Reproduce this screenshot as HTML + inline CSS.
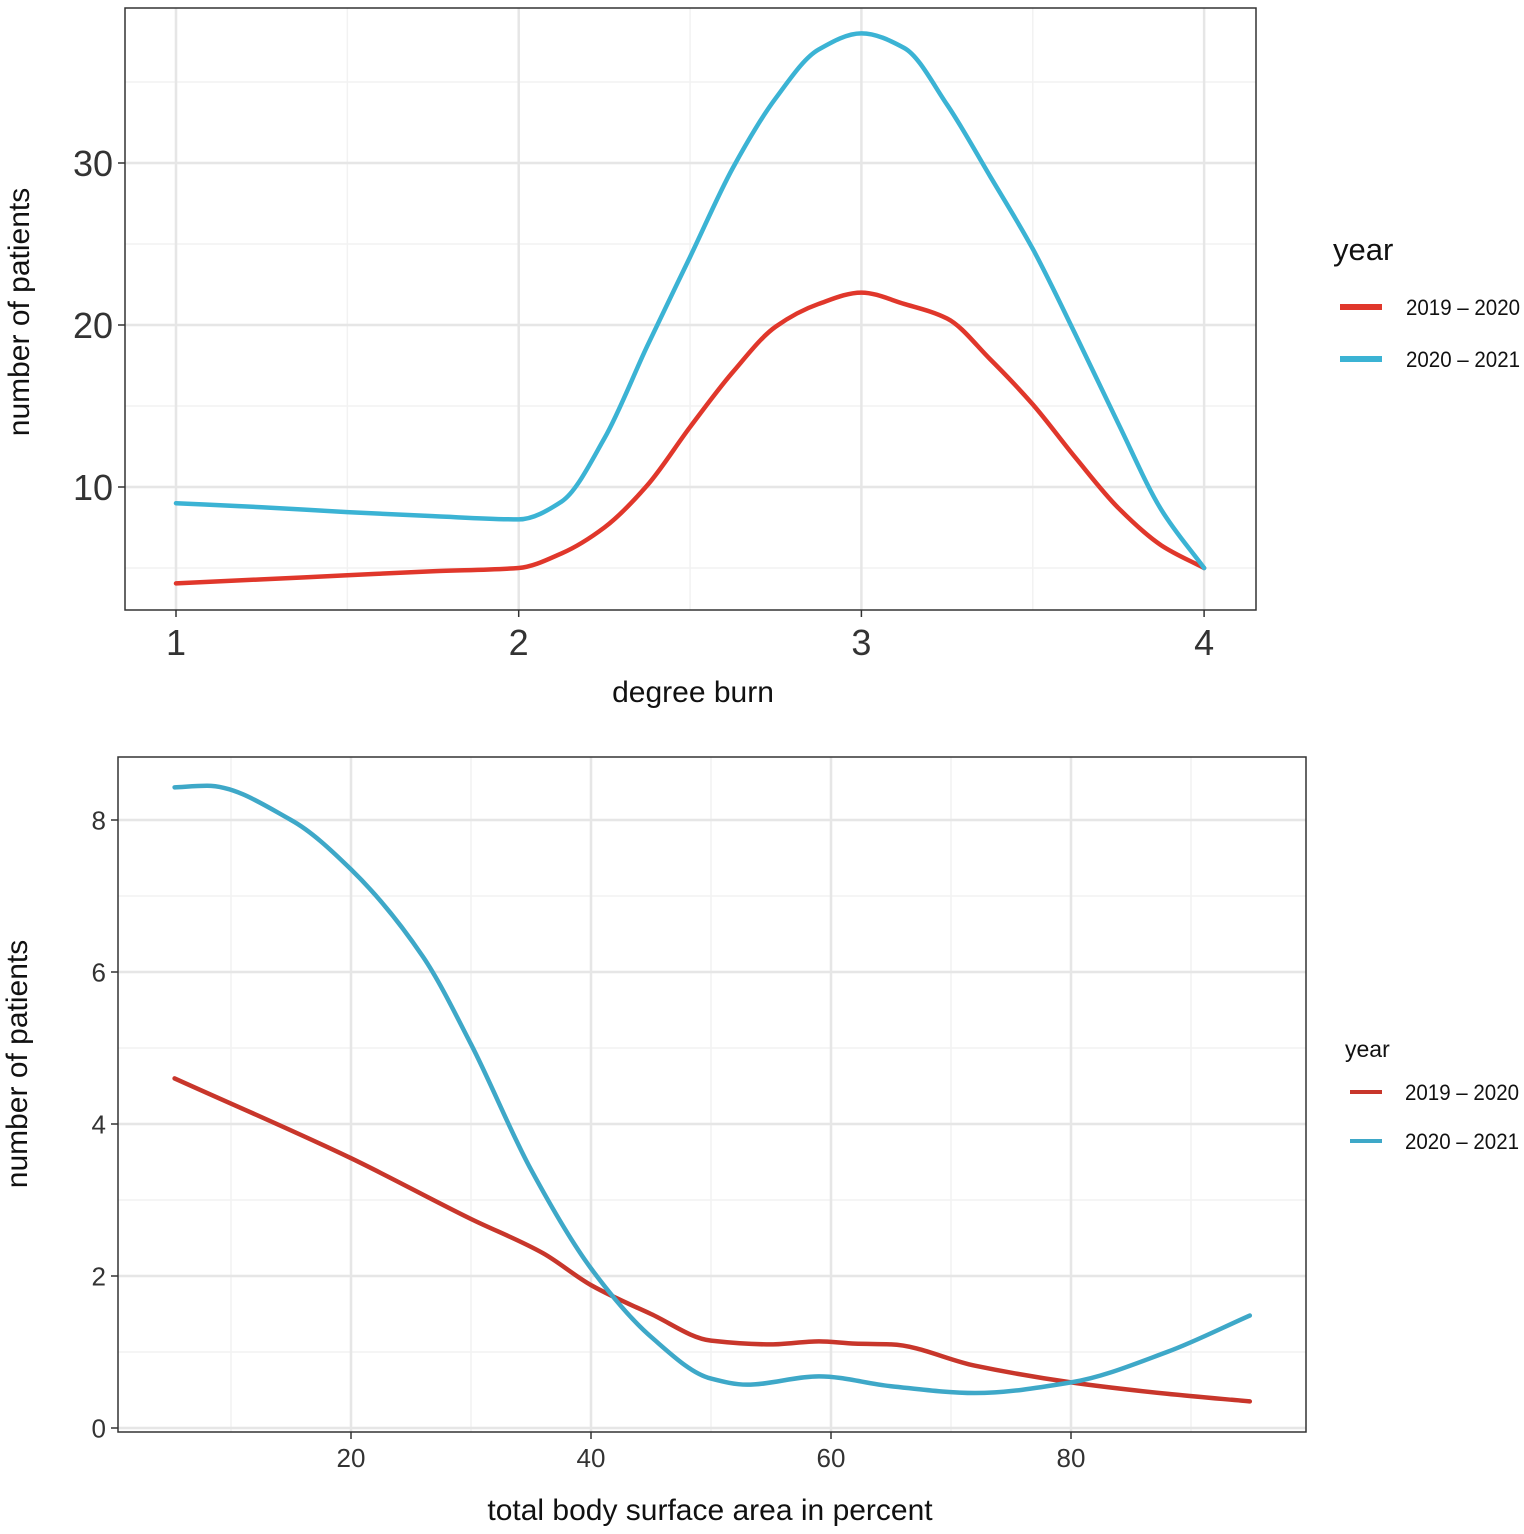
<!DOCTYPE html>
<html><head><meta charset="utf-8">
<style>
html,body{margin:0;padding:0;background:#fff;}
svg{display:block;font-family:"Liberation Sans",Arial,sans-serif;}
</style></head>
<body>
<svg id="chart" width="1524" height="1534" viewBox="0 0 1524 1534">
<g id="top"></g>
<g id="bot"></g>
</svg>
<script>
// Top chart data
const topX1 = [1,1.25,1.5,1.75,2,2.125,2.25,2.375,2.5,2.625,2.75,2.875,3,3.125,3.25,3.375,3.5,3.625,3.75,3.875,4];
const topRed = [4.05,4.3,4.55,4.8,5,5.9,7.5,10.1,13.7,17.1,19.9,21.3,22,21.3,20.4,17.9,15.1,11.8,8.7,6.4,5];
const topBlue = [9,8.75,8.45,8.2,8,9.1,13.0,18.7,24.2,29.7,34.0,37.0,38,37.1,33.6,29.2,24.7,19.4,13.9,8.6,5];
const topXTicks = [1,2,3,4];
const topYTicks = [10,20,30];
// Bottom chart data
const botX = [5.3,8,15,20,26,30,35,40,45,50,53,59,65,72,80,88,94.9];
const botBlue = [8.43,8.45,8.0,7.35,6.2,5.05,3.4,2.1,1.2,0.65,0.57,0.68,0.55,0.46,0.6,1.0,1.48];
const botRedX = [5.3,20,30,36,40,45,50,55,59,62,65,72,80,88,94.9];
const botRed = [4.6,3.55,2.75,2.3,1.88,1.5,1.15,1.1,1.14,1.11,1.1,0.82,0.6,0.45,0.35];
const botXTicks = [20,40,60,80];
const botYTicks = [0,2,4,6,8];
const seriesNames = ["2019 \u2013 2020","2020 \u2013 2021"];

const NS="http://www.w3.org/2000/svg";
function mk(parent,tag,attrs,text){const e=document.createElementNS(NS,tag);for(const k in attrs)e.setAttribute(k,attrs[k]);if(text!==undefined)e.textContent=text;parent.appendChild(e);return e;}
// monotone cubic (Fritsch-Carlson) path
function smooth(pts){const n=pts.length,dx=[],m=[],t=new Array(n);
  for(let i=0;i<n-1;i++){dx[i]=pts[i+1][0]-pts[i][0];m[i]=(pts[i+1][1]-pts[i][1])/dx[i];}
  t[0]=m[0];t[n-1]=m[n-2];
  for(let i=1;i<n-1;i++){if(m[i-1]*m[i]<=0)t[i]=0;else{const w1=2*dx[i]+dx[i-1],w2=dx[i]+2*dx[i-1];t[i]=(w1+w2)/(w1/m[i-1]+w2/m[i]);}}
  let d="M"+pts[0][0]+","+pts[0][1];
  for(let i=0;i<n-1;i++){const h=dx[i]/3;d+=" C"+(pts[i][0]+h)+","+(pts[i][1]+t[i]*h)+" "+(pts[i+1][0]-h)+","+(pts[i+1][1]-t[i+1]*h)+" "+pts[i+1][0]+","+pts[i+1][1];}
  return d;}

function panel(g,o){
  const {L,R,T,B,sx,sy,xMinor,yMinor,xTicks,yTicks,tickFs,series,xTitle,xTitleY,xTitleX,yTitleX,yTitleY,tfs,lg}=o;
  mk(g,"rect",{x:L,y:T,width:R-L,height:B-T,fill:"#fff"});
  xMinor.forEach(v=>{const e=mk(g,"line",{x1:sx(v),x2:sx(v),y1:T,y2:B,stroke:"#f2f2f2","stroke-width":1.5});

});
  yMinor.forEach(v=>{const e=mk(g,"line",{x1:L,x2:R,y1:sy(v),y2:sy(v),stroke:"#f2f2f2","stroke-width":1.5});

});
  xTicks.forEach(v=>{const e=mk(g,"line",{x1:sx(v),x2:sx(v),y1:T,y2:B,stroke:"#e6e6e6","stroke-width":2.5});


    mk(g,"line",{x1:sx(v),x2:sx(v),y1:B,y2:B+7,stroke:"#333","stroke-width":1.5});
    const t=mk(g,"text",{x:sx(v),y:B+tickFs+9,"font-size":tickFs,"text-anchor":"middle",fill:"#333"},v);

});
  yTicks.forEach(v=>{const e=mk(g,"line",{x1:L,x2:R,y1:sy(v),y2:sy(v),stroke:"#e6e6e6","stroke-width":2.5});


    mk(g,"line",{x1:L-7,x2:L,y1:sy(v),y2:sy(v),stroke:"#333","stroke-width":1.5});
    const t=mk(g,"text",{x:L-12,y:sy(v)+tickFs*0.36,"font-size":tickFs,"text-anchor":"end",fill:"#333"},v);

});
  series.forEach(s=>{const p=mk(g,"path",{d:smooth(s.x.map((x,i)=>[sx(x),sy(s.y[i])])),fill:"none",stroke:s.c,"stroke-width":4.5,"stroke-linecap":"round"});

});
  mk(g,"rect",{x:L,y:T,width:R-L,height:B-T,fill:"none",stroke:"#333","stroke-width":1.5});
  const xt=mk(g,"text",{x:xTitleX,y:xTitleY,"font-size":tfs,"text-anchor":"middle",fill:"#111"},xTitle);


  const yt=mk(g,"text",{x:0,y:0,"font-size":tfs,"text-anchor":"middle",fill:"#111",transform:"translate("+yTitleX+","+yTitleY+") rotate(-90)"},"number of patients");


  const lgT=mk(g,"text",{x:lg.x,y:lg.ty,"font-size":lg.tfs,fill:"#111"},"year");


  series.forEach((s,i)=>{const y=lg.y0+i*lg.dy;
    const ln=mk(g,"line",{x1:lg.lx1,x2:lg.lx2,y1:y,y2:y,stroke:s.c,"stroke-width":lg.lw});


    const t=mk(g,"text",{x:lg.tx,y:y+8,"font-size":lg.fs,fill:"#111",textLength:114,lengthAdjust:"spacingAndGlyphs"},seriesNames[i]);

});
}

// top
(function(){
  const sx=v=>176+(v-1)*342.7, sy=v=>487-(v-10)*16.2;
  panel(document.getElementById("top"),{L:125,R:1256,T:8,B:610,sx,sy,
    xMinor:[1.5,2.5,3.5],yMinor:[5,15,25,35],xTicks:topXTicks,yTicks:topYTicks,tickFs:36,
    series:[{x:topX1,y:topRed,c:"#e0372b",name:"line-2019-2020"},{x:topX1,y:topBlue,c:"#3bb3d4",name:"line-2020-2021"}],
    xTitle:"degree burn",xTitleX:693,xTitleY:702,tfs:30,yTitleX:29,yTitleY:312,
    lg:{x:1333,ty:260,tfs:31,y0:307,dy:52,lx1:1340,lx2:1382,lw:6,tx:1406,fs:22}});
})();
// bottom
(function(){
  const sx=v=>351+(v-20)*12, sy=v=>1428-v*76;
  panel(document.getElementById("bot"),{L:118,R:1306,T:757,B:1432,sx,sy,
    xMinor:[10,30,50,70,90],yMinor:[1,3,5,7],xTicks:botXTicks,yTicks:botYTicks,tickFs:26,
    series:[{x:botRedX,y:botRed,c:"#c8362b",name:"line-2019-2020"},{x:botX,y:botBlue,c:"#3ea8c8",name:"line-2020-2021"}],
    xTitle:"total body surface area in percent",xTitleX:710,xTitleY:1520,tfs:30,yTitleX:27,yTitleY:1064,
    lg:{x:1345,ty:1057,tfs:23,y0:1092,dy:49,lx1:1350,lx2:1382,lw:4,tx:1405,fs:22}});
})();
</script>
</body></html>
